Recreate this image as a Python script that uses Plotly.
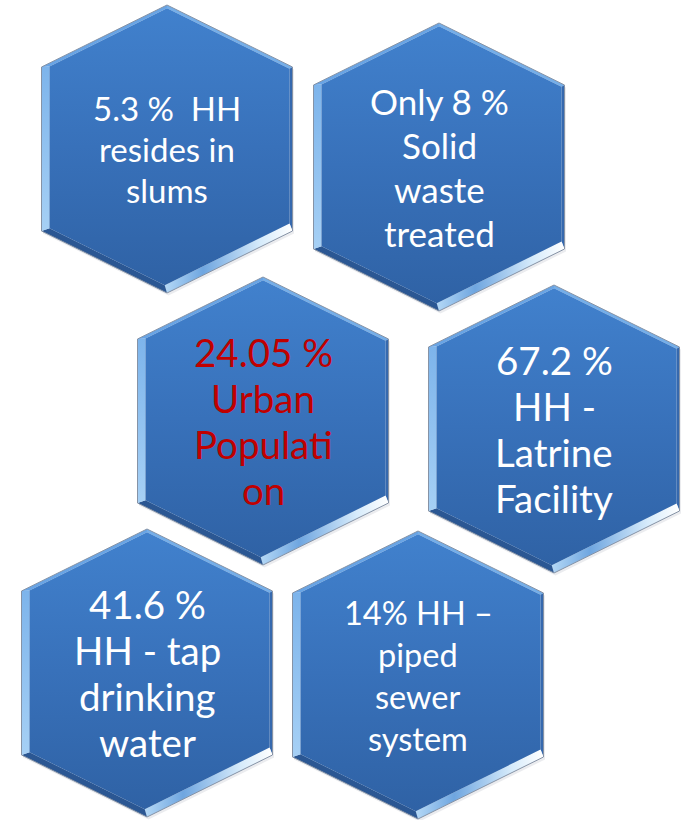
import numpy as np
import plotly.graph_objects as go

# ---- data ----
labels = [
    ["5.3 %  HH", "resides in", "slums"],
    ["Only 8 %", "Solid", "waste", "treated"],
    ["24.05 %", "Urban", "Populati", "on"],
    ["67.2 %", "HH -", "Latrine", "Facility"],
    ["41.6 %", "HH - tap", "drinking", "water"],
    ["14% HH \u2013", "piped", "sewer", "system"],
]
text_colors = ["#ffffff", "#ffffff", "#c00000", "#ffffff", "#ffffff", "#ffffff"]

# ---- layout (pixel geometry of the hexagons) ----
centers = [(167, 149), (439, 167), (263, 421), (554, 429), (147, 673), (418, 675)]
font_sizes = [33, 35, 38.5, 38.5, 38.5, 32.5]
line_gaps = [41, 44, 46, 46, 46, 42]
W, H, C = 251, 288, 62
insets = [3, 3, 8, 6, 8, 3]  # edges: top-right, right, bottom-right, bottom-left, left, top-left

fig = go.Figure()


def hex_vertices(cx, cy):
    return np.array([
        [cx, cy - H / 2],
        [cx + W / 2, cy - H / 2 + C],
        [cx + W / 2, cy + H / 2 - C],
        [cx, cy + H / 2],
        [cx - W / 2, cy + H / 2 - C],
        [cx - W / 2, cy - H / 2 + C],
    ], dtype=float)


def inner_vertices(V, cx, cy):
    n = len(V)
    lines = []
    for i in range(n):
        p, q = V[i], V[(i + 1) % n]
        e = (q - p) / np.linalg.norm(q - p)
        nrm = np.array([-e[1], e[0]])
        mid = (p + q) / 2
        if np.dot(np.array([cx, cy]) - mid, nrm) < 0:
            nrm = -nrm
        lines.append((p + nrm * insets[i], e))
    out = []
    for j in range(n):
        p1, e1 = lines[(j - 1) % n]
        p2, e2 = lines[j]
        A = np.array([e1, -e2]).T
        t = np.linalg.solve(A, p2 - p1)
        out.append(p1 + e1 * t[0])
    return np.array(out)


def poly(pts, **kw):
    xs = list(pts[:, 0]) + [pts[0, 0]]
    ys = list(pts[:, 1]) + [pts[0, 1]]
    fig.add_trace(go.Scatter(x=xs, y=ys, mode="lines", fill="toself",
                             hoverinfo="skip", showlegend=False, **kw))


facet_styles = [
    dict(fillcolor="#74aee9"),                                   # top-right
    dict(fillcolor="#3669ae"),                                   # right
    dict(fillgradient=dict(type="horizontal",
                           colorscale=[[0, "#b4d8f6"], [0.3, "#6fa6e0"],
                                       [0.75, "#d6ebfb"], [1, "#ffffff"]])),  # bottom-right
    dict(fillcolor="#2b5793"),                                   # bottom-left
    dict(fillgradient=dict(type="vertical",
                           colorscale=[[0, "#7db4eb"], [1, "#a6d0f5"]])),   # left
    dict(fillcolor="#68a4e5"),                                   # top-left
]

for k, (cx, cy) in enumerate(centers):
    V = hex_vertices(cx, cy)
    I = inner_vertices(V, cx, cy)
    # soft shadow
    Vs = V + np.array([1.5, 2.5])
    poly(Vs, line=dict(width=0, color="rgba(0,0,0,0)"), fillcolor="rgba(90,100,120,0.12)")
    # bevel facets
    for i in range(6):
        j = (i + 1) % 6
        quad = np.array([V[i], V[j], I[j], I[i]])
        st = dict(facet_styles[i])
        if "fillgradient" in st:
            fg = dict(st["fillgradient"])
            if fg["type"] == "horizontal":
                fg["start"] = float(quad[:, 0].min())
                fg["stop"] = float(quad[:, 0].max())
            else:
                fg["start"] = float(quad[:, 1].min())
                fg["stop"] = float(quad[:, 1].max())
            st["fillgradient"] = fg
        poly(quad, line=dict(width=0, color="rgba(0,0,0,0)"), **st)
    # face with vertical gradient
    poly(I, line=dict(width=0, color="rgba(0,0,0,0)"),
         fillgradient=dict(type="vertical",
                           colorscale=[[0, "#4181cd"], [0.5, "#3871ba"], [1, "#2f62a5"]],
                           start=float(I[:, 1].min()), stop=float(I[:, 1].max())))
    # outline
    xs = list(V[:, 0]) + [V[0, 0]]
    ys = list(V[:, 1]) + [V[0, 1]]
    fig.add_trace(go.Scatter(x=xs, y=ys, mode="lines",
                             line=dict(color="#8693a6", width=1),
                             hoverinfo="skip", showlegend=False))
    # text lines
    lines_k = labels[k]
    n = len(lines_k)
    for li, txt in enumerate(lines_k):
        y = cy + (li - (n - 1) / 2) * line_gaps[k]
        fig.add_annotation(x=cx, y=y, text=txt, showarrow=False,
                           xanchor="center", yanchor="middle",
                           font=dict(family="Lato", size=font_sizes[k], color=text_colors[k]))

fig.update_layout(
    width=682, height=820,
    margin=dict(l=0, r=0, t=0, b=0),
    paper_bgcolor="#ffffff", plot_bgcolor="#ffffff",
    xaxis=dict(range=[0, 682], visible=False, fixedrange=True),
    yaxis=dict(range=[820, 0], visible=False, fixedrange=True),
)

fig.write_html(
    "out.html",
    config={"displayModeBar": False},
    post_script="document.body.style.margin='0';document.body.style.padding='0';"
                "document.documentElement.style.overflow='hidden';",
)
